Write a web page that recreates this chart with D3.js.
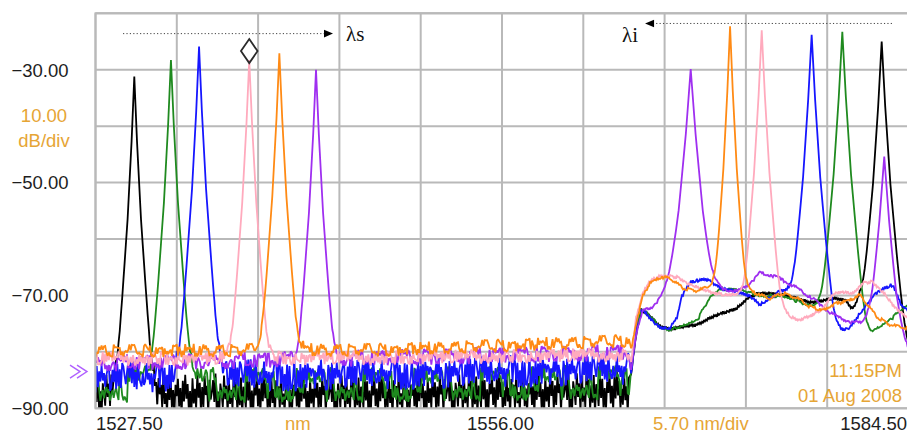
<!DOCTYPE html>
<html><head><meta charset="utf-8">
<script src="https://cdn.jsdelivr.net/npm/d3@7"></script>
<style>
html,body{margin:0;padding:0;background:#fff;overflow:hidden}
svg{display:block}
</style></head><body>
<svg id="chart" width="907" height="433"></svg>
<script>
// ---------------- data ----------------
const xDomain = [1527.5, 1584.5];          // nm
const yDomain = [-90, -20];                // dBm
const nmPerDiv = 5.70;
const dbPerDiv = 10.00;
const xTickLabels = [1527.5, 1556.0, 1584.5];
const yTickLabels = [-30, -50, -70, -90];

const traceNames = ["black", "green", "blue", "purple", "pink", "orange"];

// signal peaks (left group)
const signalPeakNm = [1530.22, 1532.79, 1534.76, 1542.96, 1538.28, 1540.39];
const signalPeakDb = [-31.2, -28.3, -25.9, -30.0, -28.3, -27.1];
const signalPeakWidth = [1.0, 1.05, 1.05, 1.05, 1.05, 1.05];

// idler peaks (right group)
const idlerPeakNm = [1582.62, 1579.86, 1577.71, 1569.23, 1574.21, 1571.99];
const idlerPeakDb = [-25.0, -23.3, -23.8, -29.9, -23.0, -22.3];
const idlerPeakWidth = [1.3, 1.3, 1.28, 1.8, 1.15, 1.0];

// extra small peak on the purple trace
const extraPeakTrace = ["purple"];
const extraPeakNm = [1582.80];
const extraPeakDb = [-45.4];
const extraPeakWidth = [1.8];

// peak skirt shape read from the black signal peak (offset nm -> drop dB)
const peakProfileOffsetNm = [0, 0.19, 0.47, 0.84, 1.09, 1.23, 1.6, 3.0];
const peakProfileDropDb  = [0, 11.5, 25.3, 39.0, 47.7, 52.0, 62.0, 90.0];

// noise floor (left of ~1565 nm): level at start / middle / end and spread
const floorNm = [1527.5, 1548.0, 1564.9];
const floorStartDb = [-87.5, -85.8, -84.5, -82.0, -81.2, -79.8];
const floorMidDb   = [-87.5, -85.8, -83.8, -81.0, -81.0, -79.6];
const floorEndDb   = [-87.0, -85.3, -83.0, -80.0, -80.5, -78.0];
const floorSpreadDb = [4.0, 3.2, 3.0, 1.5, 1.3, 1.2];
const floorStride = [1, 4, 7, 10, 13, 16];
const floorOffset = [0, 17, 33, 48, 61, 79];

// noise shape (relative units) estimated from the jagged floor
const floorJitter = [0.62,-0.35,0.91,-0.78,0.12,-0.95,0.47,0.05,-0.58,0.83,-0.22,0.38,-0.88,0.71,-0.44,0.19,-0.67,0.96,-0.12,0.54,-0.81,0.29,-0.49,0.74,-0.99,0.33,0.08,-0.63,0.88,-0.28,0.57,-0.72,0.16,-0.91,0.43,-0.06,0.79,-0.53,0.25,-0.84,0.66,-0.31,0.92,-0.18,0.48,-0.76,0.11,-0.59,0.85,-0.39,0.22,-0.97,0.61,-0.14,0.35,-0.69,0.94,-0.47,0.03,-0.82,0.52,-0.26,0.77,-0.61,0.18,-0.89,0.41,-0.09,0.68,-0.55,0.27,-0.93,0.59,-0.33,0.86,-0.2,0.45,-0.74,0.14,-0.98,0.7,-0.41,0.24,-0.65,0.9,-0.16,0.5,-0.79,0.31,-0.57,0.81,-0.04,0.37,-0.86,0.64,-0.24,0.1];

// ASE / idler-band background (right of ~1565 nm), [nm, dB]
const aseBlack = [[1565.05,-84],[1565.40,-77],[1565.75,-72.6],[1566.19,-73.2],[1567.08,-75.5],[1567.78,-76.0],[1568.69,-75.5],[1569.67,-75.2],[1570.58,-74.0],[1571.50,-73.1],[1572.48,-72.3],[1573.25,-70.4],[1573.88,-69.7],[1574.79,-69.6],[1575.70,-69.9],[1576.68,-70.5],[1577.60,-71.3],[1578.30,-71.0],[1579.21,-70.5],[1580.05,-70.8],[1580.61,-72.6],[1581.10,-70.5],[1583.20,-72.0],[1583.91,-76.0],[1584.5,-81.0]];
const aseGreen = [[1565.05,-83],[1565.40,-77],[1565.75,-72.6],[1566.19,-73.2],[1567.08,-75.5],[1567.78,-76.0],[1568.69,-75.5],[1569.67,-74.5],[1570.58,-70.2],[1571.29,-68.7],[1571.99,-69.0],[1573.25,-69.4],[1574.09,-69.9],[1575.70,-70.3],[1576.89,-71.2],[1578.09,-72.0],[1578.50,-71.5],[1579.90,-70.0],[1581.10,-75.0],[1581.52,-77.6],[1582.29,-76.1],[1583.20,-74.4],[1584.12,-72.2],[1584.5,-71.5]];
const aseBlue = [[1565.05,-84],[1565.54,-73.1],[1565.89,-72.6],[1566.59,-74.7],[1567.08,-75.8],[1567.78,-75.8],[1568.27,-73.8],[1568.62,-70.2],[1569.18,-67.6],[1570.09,-67.1],[1570.58,-67.4],[1571.29,-68.7],[1572.48,-69.3],[1573.39,-70.2],[1574.09,-71.7],[1574.79,-70.5],[1575.49,-69.3],[1576.50,-69.0],[1577.70,-68.0],[1578.90,-72.0],[1579.21,-75.5],[1579.91,-76.4],[1580.40,-75.8],[1581.10,-73.2],[1582.01,-70.2],[1582.71,-68.7],[1583.41,-68.1],[1584.04,-72.0],[1584.5,-72.6]];
const asePurple = [[1565.05,-83],[1565.40,-77],[1565.89,-72.6],[1566.59,-72.0],[1567.29,-70.2],[1567.99,-67.5],[1568.60,-67.0],[1570.58,-67.6],[1571.50,-69.0],[1572.48,-69.3],[1573.39,-67.8],[1574.09,-66.0],[1575.28,-66.7],[1575.70,-67.3],[1576.68,-68.7],[1578.09,-71.1],[1579.00,-73.1],[1580.40,-74.7],[1581.10,-75.0],[1581.80,-74.5],[1582.30,-74.0],[1583.30,-75.0],[1583.91,-77.0],[1584.5,-80.0]];
const asePink = [[1565.05,-82],[1565.40,-74],[1565.89,-69.6],[1566.38,-67.3],[1567.08,-66.5],[1567.78,-66.6],[1568.27,-66.8],[1569.20,-68.0],[1570.60,-69.5],[1572.00,-70.0],[1573.20,-70.0],[1575.70,-72.6],[1576.19,-73.9],[1576.89,-74.4],[1577.60,-73.7],[1578.51,-72.3],[1579.21,-69.9],[1579.91,-69.3],[1580.61,-69.6],[1581.31,-67.8],[1581.94,-67.6],[1582.71,-69.3],[1583.41,-71.7],[1584.12,-73.5],[1584.5,-74.0]];
const aseOrange = [[1565.05,-79.5],[1565.40,-75],[1565.89,-70.0],[1566.38,-67.8],[1567.08,-66.8],[1567.78,-66.9],[1568.69,-68.7],[1569.67,-69.2],[1570.58,-68.5],[1571.30,-68.0],[1572.90,-68.5],[1573.39,-69.3],[1574.09,-69.9],[1574.79,-70.5],[1575.70,-69.6],[1576.68,-70.5],[1577.60,-72.0],[1578.51,-72.6],[1579.35,-71.5],[1580.40,-70.8],[1581.10,-69.9],[1582.29,-73.8],[1583.20,-75.2],[1583.69,-75.5],[1584.5,-75.8]];
const aseByTrace = [aseBlack, aseGreen, aseBlue, asePurple, asePink, aseOrange];

// marker and annotations
const markerNm = 1538.28, markerDb = -26.7;
const lambdaS = {label: "λs", fromNm: 1529.43, toNm: 1544.15, db: -23.6, textNm: 1545.06, textDb: -24.9};
const lambdaI = {label: "λi", fromNm: 1583.34, toNm: 1566.03, db: -21.8, textNm: 1565.54, textDb: -25.0};

// ---------------- styles ----------------
const traceColor = {black:"#000000", green:"#1f8a1f", blue:"#1616ff", purple:"#9f2ff0", pink:"#ffaabd", orange:"#ff8a14"};
const labelFont = "'Liberation Sans', Arial, sans-serif";
const amber = "#e6a535";
const gridColor = "#b9b9b9";

// ---------------- scales ----------------
const svg = d3.select("#chart");
const x = d3.scaleLinear().domain(xDomain).range([95.5, 908.5]);
const y = d3.scaleLinear().domain(yDomain).range([408.3, 13.3]);

svg.append("defs").append("clipPath").attr("id", "plotClip")
  .append("rect").attr("x", x(xDomain[0])).attr("y", y(yDomain[1]))
  .attr("width", x(xDomain[1]) - x(xDomain[0])).attr("height", y(yDomain[0]) - y(yDomain[1]));

// grid
const nDivX = Math.round((xDomain[1] - xDomain[0]) / nmPerDiv);
const xGrid = d3.range(nDivX + 1).map(i => xDomain[0] + i * nmPerDiv);
const yGrid = d3.range(yDomain[0], yDomain[1] + 1, dbPerDiv);
const grid = svg.append("g");
grid.selectAll("line.v").data(xGrid).join("line")
  .attr("x1", d => x(d)).attr("x2", d => x(d))
  .attr("y1", y(yDomain[0])).attr("y2", y(yDomain[1]))
  .attr("stroke", gridColor).attr("stroke-width", 2);
grid.selectAll("line.h").data(yGrid).join("line")
  .attr("y1", d => y(d)).attr("y2", d => y(d))
  .attr("x1", x(xDomain[0])).attr("x2", x(xDomain[1]))
  .attr("stroke", gridColor).attr("stroke-width", 2);

// ---------------- traces ----------------
const dropScale = d3.scaleLinear().domain(peakProfileOffsetNm).range(peakProfileDropDb).clamp(true);
const lin = v => Math.pow(10, v / 10);

function peaksFor(k) {
  const name = traceNames[k];
  const p = [
    {nm: signalPeakNm[k], db: signalPeakDb[k], w: signalPeakWidth[k]},
    {nm: idlerPeakNm[k], db: idlerPeakDb[k], w: idlerPeakWidth[k]}
  ];
  extraPeakTrace.forEach((t, j) => { if (t === name) p.push({nm: extraPeakNm[j], db: extraPeakDb[j], w: extraPeakWidth[j]}); });
  return p;
}

const floorStep = 0.085;
function buildTrace(k) {
  const peaks = peaksFor(k);
  const floorLevel = d3.scaleLinear().domain(floorNm).range([floorStartDb[k], floorMidDb[k], floorEndDb[k]]);
  const ase = aseByTrace[k];
  const aseLevel = d3.scaleLinear().domain(ase.map(d => d[0])).range(ase.map(d => d[1]));
  const nJ = floorJitter.length;
  const pts = new Set();
  const nFloor = Math.floor((1564.95 - xDomain[0]) / floorStep);
  for (let i = 0; i <= nFloor; i++) pts.add(+(xDomain[0] + i * floorStep).toFixed(3));
  for (let i = 0; i <= 278; i++) pts.add(+(1565.05 + i * 0.07).toFixed(3));
  peaks.forEach(p => peakProfileOffsetNm.slice(0, 7).forEach(o => {
    pts.add(+(p.nm - o * p.w).toFixed(4)); pts.add(+(p.nm + o * p.w).toFixed(4));
  }));
  const xs = Array.from(pts).filter(v => v >= xDomain[0] && v <= xDomain[1]).sort((a, b) => a - b);
  return xs.map(nm => {
    let base;
    if (nm < 1565.0) {
      const gi = Math.round((nm - xDomain[0]) / floorStep);
      base = floorLevel(nm) + floorSpreadDb[k] * floorJitter[(gi * floorStride[k] + floorOffset[k]) % nJ];
    } else {
      const gi = Math.round((nm - 1565.05) / 0.07);
      base = aseLevel(nm) + 0.3 * floorJitter[(gi * floorStride[k] + floorOffset[k] + 7) % nJ];
    }
    let p = lin(base);
    peaks.forEach(pk => { p += lin(pk.db - dropScale(Math.abs(nm - pk.nm) / pk.w)); });
    return [nm, 10 * Math.log10(p)];
  });
}

const line = d3.line().x(d => x(d[0])).y(d => y(d[1]));
const traceG = svg.append("g").attr("clip-path", "url(#plotClip)");
traceNames.forEach((name, k) => {
  traceG.append("path").datum(buildTrace(k))
    .attr("d", line).attr("fill", "none")
    .attr("stroke", traceColor[name]).attr("stroke-width", 1.8)
    .attr("stroke-linejoin", "miter").attr("stroke-miterlimit", 2);
});

// ---------------- axes labels ----------------
const yAxis = d3.axisLeft(y).tickValues(yTickLabels).tickFormat(d3.format(".2f")).tickSize(0).tickPadding(27);
const yAx = svg.append("g").attr("transform", `translate(${x(xDomain[0])},0)`).call(yAxis);
yAx.select(".domain").remove();
yAx.selectAll("text").attr("font-family", labelFont).attr("font-size", 18.5).attr("fill", "#1e1e1e").attr("dy", "0.34em");

const xAxis = d3.axisBottom(x).tickValues(xTickLabels).tickFormat(d3.format(".2f")).tickSize(0).tickPadding(8.6);
const xAx = svg.append("g").attr("transform", `translate(0,${y(yDomain[0])})`).call(xAxis);
xAx.select(".domain").remove();
xAx.selectAll("text").attr("font-family", labelFont).attr("font-size", 18.5).attr("fill", "#1e1e1e")
  .attr("text-anchor", (d, i) => i === 0 ? "start" : (i === xTickLabels.length - 1 ? "end" : "middle"))
  .attr("dx", (d, i) => i === xTickLabels.length - 1 ? -2 : (i === 1 ? -2 : 0));

// plot border
svg.append("rect").attr("x", x(xDomain[0])).attr("y", y(yDomain[1]))
  .attr("width", x(xDomain[1]) - x(xDomain[0])).attr("height", y(yDomain[0]) - y(yDomain[1]))
  .attr("fill", "none").attr("stroke", gridColor).attr("stroke-width", 2);

// amber instrument texts
const amberTexts = [
  {t: d3.format(".2f")(dbPerDiv), x: 44, y: 121.7, a: "middle"},
  {t: "dB/div", x: 44, y: 147, a: "middle"},
  {t: "nm", x: 285, y: 430, a: "start"},
  {t: d3.format(".2f")(nmPerDiv) + " nm/div", x: 653, y: 430, a: "start"},
  {t: "11:15PM", x: 902, y: 377, a: "end"},
  {t: "01 Aug 2008", x: 902, y: 402, a: "end"}
];
svg.selectAll("text.amber").data(amberTexts).join("text").attr("class", "amber")
  .attr("x", d => d.x).attr("y", d => d.y).attr("text-anchor", d => d.a)
  .attr("font-family", labelFont).attr("font-size", 18.5).attr("fill", amber).text(d => d.t);

// purple reference-level chevrons
const cy = y(-83.5);
svg.append("path")
  .attr("d", `M70,${cy - 6.5}L80,${cy}L70,${cy + 6.5}M77,${cy - 6.5}L87,${cy}L77,${cy + 6.5}`)
  .attr("fill", "none").attr("stroke", "#b060ff").attr("stroke-width", 1.4);

// marker diamond
const mx = x(markerNm), my = y(markerDb);
svg.append("path").attr("d", `M${mx},${my - 12}L${mx + 8.3},${my}L${mx},${my + 12}L${mx - 8.3},${my}Z`)
  .attr("fill", "none").attr("stroke", "#2a2a2a").attr("stroke-width", 1.8);

// λ annotations
function arrow(a) {
  const x1 = x(a.fromNm), x2 = x(a.toNm), yy = y(a.db);
  const dir = Math.sign(x2 - x1);
  svg.append("line").attr("x1", x1).attr("x2", x2 - dir * 8).attr("y1", yy).attr("y2", yy)
    .attr("stroke", "#444").attr("stroke-width", 1).attr("stroke-dasharray", "1.2,2.2");
  svg.append("path").attr("d", `M${x2},${yy}L${x2 - dir * 9},${yy - 3.8}L${x2 - dir * 9},${yy + 3.8}Z`).attr("fill", "#000");
}
arrow(lambdaS); arrow(lambdaI);
[lambdaS, lambdaI].forEach(a => {
  svg.append("text").attr("x", x(a.textNm)).attr("y", y(a.textDb))
    .attr("text-anchor", a === lambdaI ? "end" : "start")
    .attr("font-family", "'Liberation Serif', 'Times New Roman', serif").attr("font-size", 21)
    .attr("fill", "#111").text(a.label);
});
</script>
</body></html>
